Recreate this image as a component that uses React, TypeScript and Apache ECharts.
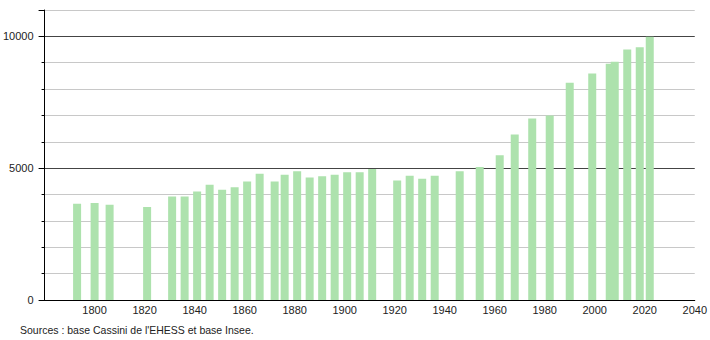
import React, { useEffect, useRef } from "react";
import * as echarts from "echarts";

const years = [1793, 1800, 1806, 1821, 1831, 1836, 1841, 1846, 1851, 1856, 1861, 1866, 1872, 1876, 1881, 1886, 1891, 1896, 1901, 1906, 1911, 1921, 1926, 1931, 1936, 1946, 1954, 1962, 1968, 1975, 1982, 1990, 1999, 2006, 2008, 2013, 2018, 2022];
const population = [3650, 3675, 3612, 3524, 3928, 3928, 4118, 4372, 4182, 4280, 4499, 4791, 4499, 4753, 4880, 4651, 4690, 4753, 4842, 4842, 4968, 4537, 4715, 4600, 4715, 4880, 5045, 5488, 6274, 6882, 6996, 8238, 8593, 8960, 9037, 9506, 9590, 9987];
const yLabelValues = [0, 5000, 10000];
const sourceText = "Sources : base Cassini de l'EHESS et base Insee.";

const FONT = "'Liberation Sans', Arial, sans-serif";

export default function App() {
  const ref = useRef<HTMLDivElement>(null);
  useEffect(() => {
    if (!ref.current) return;
    const chart = echarts.init(ref.current, null, { renderer: "svg" });
    chart.setOption({
      animation: false,
      backgroundColor: "#ffffff",
      grid: { left: 44, right: 15, top: 10, bottom: 40, containLabel: false },
      xAxis: {
        type: "value",
        min: 1780,
        max: 2040,
        interval: 20,
        axisLine: { show: true, onZero: false, lineStyle: { color: "#000", width: 1 } },
        axisTick: { show: false },
        splitLine: { show: false },
        axisLabel: {
          color: "#222",
          fontFamily: FONT,
          fontSize: 11,
          margin: 4,
          formatter: (v: number) => (v === 1780 ? "" : String(v)),
        },
      },
      yAxis: [
        {
          type: "value",
          min: 0,
          max: 11000,
          interval: 1000,
          position: "left",
          axisLine: { show: true, lineStyle: { color: "#000", width: 1 } },
          axisTick: { show: true, length: 3, lineStyle: { color: "#000" } },
          axisLabel: { show: false },
          splitLine: {
            show: true,
            lineStyle: { color: ["#444", "#c8c8c8", "#c8c8c8", "#c8c8c8", "#c8c8c8"], width: 1 },
          },
        },
        {
          type: "value",
          min: 0,
          max: 11000,
          interval: 5000,
          position: "left",
          axisLine: { show: false },
          axisTick: { show: true, length: 6, lineStyle: { color: "#000" } },
          splitLine: { show: false },
          axisLabel: {
            color: "#222",
            fontFamily: FONT,
            fontSize: 11,
            margin: 11,
            formatter: (v: number) => (yLabelValues.includes(v) ? String(v) : ""),
          },
        },
      ],
      series: [
        {
          type: "bar",
          yAxisIndex: 0,
          barWidth: 8,
          data: years.map((y, i) => [y, population[i]]),
          itemStyle: { color: "#ade2ad" },
        },
      ],
      graphic: [
        {
          type: "text",
          left: 20,
          top: 324,
          style: { text: sourceText, fill: "#222", font: `10.5px ${FONT}` },
        },
      ],
    });
    return () => chart.dispose();
  }, []);
  return <div ref={ref} style={{ position: "fixed", left: 0, top: 0, width: 710, height: 340 }} />;
}
